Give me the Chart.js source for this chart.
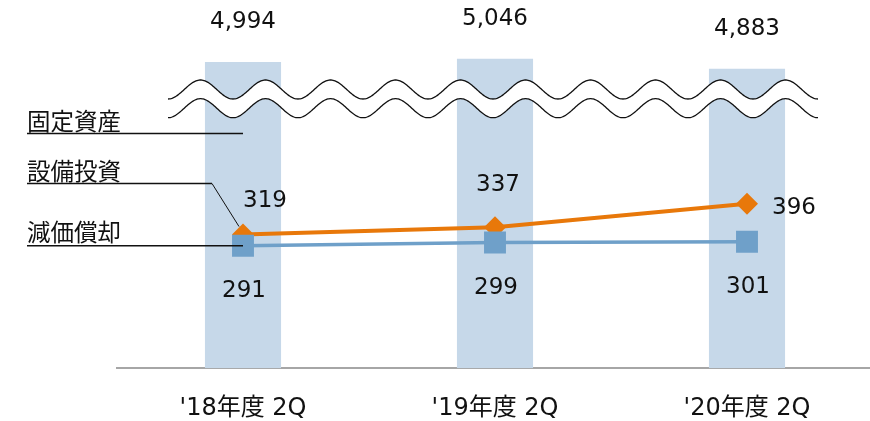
<!DOCTYPE html>
<html lang="ja">
<head>
    <meta charset="UTF-8">
    <title>固定資産・設備投資・減価償却</title>
    <style>
        body { margin: 0; overflow: hidden; background: #fff; }
        #grafico { display: block; }
    </style>
</head>
<body>
    <!-- a tela é mais alta que a janela: a folga do eixo x fica fora da vista -->
    <canvas id="grafico" width="880" height="449"></canvas>

    <script src="https://cdn.jsdelivr.net/npm/chart.js"></script>
    <script>
        // dados
        const periodos = ["'18年度 2Q", "'19年度 2Q", "'20年度 2Q"];
        const koteiShisan = [4994, 5046, 4883];   // 固定資産 (barras, eixo quebrado)
        const setsubiToshi = [319, 337, 396];     // 設備投資
        const genkaShokyaku = [291, 299, 301];    // 減価償却

        const fonte = '"DejaVu Sans", "Noto Sans CJK JP", sans-serif';
        const fonteJP = '"Noto Sans CJK JP", sans-serif';

        const corBarra = '#c6d8e9';
        const corLaranja = '#e8780a';
        const corAzul = '#6fa0c9';

        // rótulos, linhas de chamada e a quebra ondulada
        const extras = {
            id: 'extras',
            afterDatasetsDraw(chart) {
                const ctx = chart.ctx;
                const mBar = chart.getDatasetMeta(0);
                const mLar = chart.getDatasetMeta(1);
                const mAzul = chart.getDatasetMeta(2);

                // quebra ondulada
                const x0 = 168, x1 = 818, periodo = 65, amp = 9.5;
                const onda = (yc, dir) => {
                    const pts = [];
                    for (let x = x0; x <= x1; x += 1) {
                        pts.push([x, yc + amp * Math.cos(2 * Math.PI * (x - x0) / periodo)]);
                    }
                    return dir ? pts : pts.reverse();
                };
                const cima = onda(89.5, true);
                const baixo = onda(108.2, false);
                ctx.save();
                ctx.beginPath();
                cima.forEach((p, i) => i ? ctx.lineTo(p[0], p[1]) : ctx.moveTo(p[0], p[1]));
                baixo.forEach(p => ctx.lineTo(p[0], p[1]));
                ctx.closePath();
                ctx.fillStyle = '#fff';
                ctx.fill();
                ctx.strokeStyle = '#111';
                ctx.lineWidth = 1.3;
                [cima, baixo].forEach(linha => {
                    ctx.beginPath();
                    linha.forEach((p, i) => i ? ctx.lineTo(p[0], p[1]) : ctx.moveTo(p[0], p[1]));
                    ctx.stroke();
                });

                // valores
                ctx.fillStyle = '#111';
                ctx.font = '23px ' + fonte;
                ctx.textAlign = 'center';
                ctx.textBaseline = 'middle';
                mBar.data.forEach((b, i) => {
                    ctx.fillText(koteiShisan[i].toLocaleString('en-US'), b.x, b.y - 40);
                });
                const offLar = [[22, -33], [3, -42], [47, 4]];
                mLar.data.forEach((p, i) => {
                    ctx.fillText(String(setsubiToshi[i]), p.x + offLar[i][0], p.y + offLar[i][1]);
                });
                mAzul.data.forEach((p, i) => {
                    ctx.fillText(String(genkaShokyaku[i]), p.x + 1, p.y + 45);
                });

                // nomes das séries com linha de chamada
                ctx.font = '23.5px ' + fonteJP;
                ctx.textAlign = 'left';
                ctx.textBaseline = 'alphabetic';
                ctx.fillText('固定資産', 27, 130);
                ctx.fillText('設備投資', 27, 180);
                ctx.fillText('減価償却', 27, 241);

                ctx.strokeStyle = '#111';
                ctx.lineWidth = 1.6;
                ctx.beginPath();
                ctx.moveTo(27, 133.5);
                ctx.lineTo(mBar.data[0].x, 133.5);
                ctx.stroke();

                ctx.beginPath();
                ctx.moveTo(27, 183.5);
                ctx.lineTo(212, 183.5);
                ctx.stroke();
                ctx.lineWidth = 1;
                ctx.beginPath();
                ctx.moveTo(212, 183.5);
                ctx.lineTo(mLar.data[0].x - 4, mLar.data[0].y - 8);
                ctx.stroke();

                ctx.lineWidth = 1.6;
                ctx.beginPath();
                ctx.moveTo(27, mAzul.data[0].y);
                ctx.lineTo(mAzul.data[0].x, mAzul.data[0].y);
                ctx.stroke();
                ctx.restore();
            }
        };

        const ctx = document.getElementById('grafico').getContext('2d');
        const grafico = new Chart(ctx, {
            data: {
                labels: periodos,
                datasets: [
                    {
                        type: 'bar',
                        label: '固定資産',
                        data: koteiShisan,
                        yAxisID: 'yBarra',
                        backgroundColor: corBarra,
                        categoryPercentage: 1,
                        barPercentage: 0.302,
                        order: 3
                    },
                    {
                        type: 'line',
                        label: '設備投資',
                        data: setsubiToshi,
                        yAxisID: 'yLinha',
                        borderColor: corLaranja,
                        backgroundColor: corLaranja,
                        borderWidth: 4,
                        pointStyle: 'rectRot',
                        pointRadius: 11,
                        pointBorderWidth: 0,
                        order: 2
                    },
                    {
                        type: 'line',
                        label: '減価償却',
                        data: genkaShokyaku,
                        yAxisID: 'yLinha',
                        borderColor: corAzul,
                        backgroundColor: corAzul,
                        borderWidth: 3.5,
                        pointStyle: 'rect',
                        pointRadius: 15.5,
                        pointBorderWidth: 0,
                        order: 1
                    }
                ]
            },
            options: {
                responsive: false,
                animation: false,
                layout: { autoPadding: false, padding: { left: 117, right: 7, top: 0, bottom: 0 } },
                plugins: {
                    legend: { display: false },
                    tooltip: { enabled: false }
                },
                scales: {
                    x: {
                        offset: true,
                        grid: { display: false, drawTicks: false },
                        border: { display: true, color: '#a6a6a6', width: 2 },
                        ticks: {
                            color: '#111',
                            padding: 26,
                            font: { family: fonte, size: 24 }
                        }
                    },
                    yBarra: { display: false, min: 0, max: 6006 },
                    yLinha: { display: false, min: -15, max: 905 }
                }
            },
            plugins: [extras]
        });
    </script>
</body>
</html>
